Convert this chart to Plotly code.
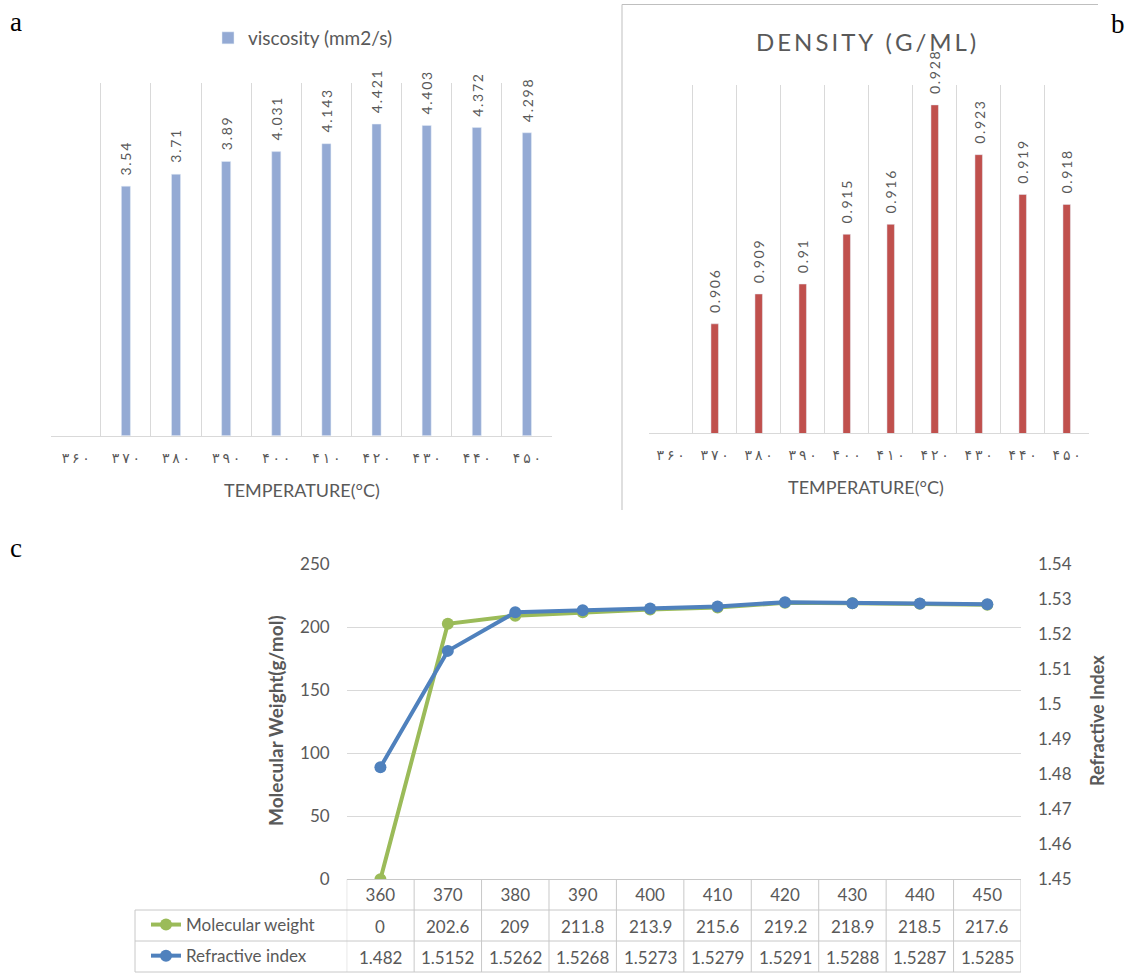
import plotly.graph_objects as go

# ---------------- data ----------------
temps = [360, 370, 380, 390, 400, 410, 420, 430, 440, 450]
temp_labels_fa = ["۳۶۰", "۳۷۰", "۳۸۰", "۳۹۰", "۴۰۰", "۴۱۰", "۴۲۰", "۴۳۰", "۴۴۰", "۴۵۰"]
viscosity = [None, 3.54, 3.71, 3.89, 4.031, 4.143, 4.421, 4.403, 4.372, 4.298]
density = [None, 0.906, 0.909, 0.91, 0.915, 0.916, 0.928, 0.923, 0.919, 0.918]
mol_weight = [0, 202.6, 209, 211.8, 213.9, 215.6, 219.2, 218.9, 218.5, 217.6]
refr_index = [1.482, 1.5152, 1.5262, 1.5268, 1.5273, 1.5279, 1.5291, 1.5288, 1.5287, 1.5285]

W, H = 1128, 974
TXT = "#595959"
GRID = "#D9D9D9"
TBL = "#C8C8C8"
BLUE_BAR = "#94AAD4"
RED_BAR = "#C0504D"
GREEN = "#9BBB59"
BLUE = "#4F81BD"
SP = "\u2009"


def px(x):
    return x / W


def py(y):
    return 1 - y / H


def spaced(s):
    return SP.join(s)


cats = [str(t) for t in temps]
fa_ticks = [spaced(t) for t in temp_labels_fa]

fig = go.Figure()

# ---------------- panel a ----------------
fig.add_trace(go.Bar(
    x=cats, y=viscosity, name="viscosity (mm2/s)", marker_color=BLUE_BAR,
    width=0.18, xaxis="x", yaxis="y", legend="legend", hoverinfo="skip",
))
# ---------------- panel b ----------------
fig.add_trace(go.Bar(
    x=cats, y=density, name="density (g/ml)", marker_color=RED_BAR,
    width=0.17, xaxis="x2", yaxis="y2", showlegend=False, hoverinfo="skip",
))
# ---------------- panel c ----------------
fig.add_trace(go.Scatter(
    x=temps, y=mol_weight, name="Molecular weight", mode="lines+markers",
    line=dict(color=GREEN, width=4), marker=dict(color=GREEN, size=12),
    xaxis="x3", yaxis="y3", legend="legend2", legendgroup="mw",
))
fig.add_trace(go.Scatter(
    x=temps, y=refr_index, name="Refractive index", mode="lines+markers",
    line=dict(color=BLUE, width=4), marker=dict(color=BLUE, size=12),
    xaxis="x3", yaxis="y4", legend="legend2", legendgroup="ri",
))

annotations = []


def note(x, y, text, size, color=TXT, family=None, angle=0, xref="paper", yref="paper"):
    f = dict(size=size, color=color)
    if family:
        f["family"] = family
    return dict(x=x, y=y, xref=xref, yref=yref, text=text, textangle=angle, showarrow=False,
                xanchor="center", yanchor="middle", font=f)


# bar value labels (category index positions)
for i, v in enumerate(viscosity):
    if v is not None:
        annotations.append(dict(
            x=i, y=v, xref="x", yref="y", text=spaced(f"{v:g}"), textangle=-90,
            showarrow=False, xanchor="center", yanchor="bottom", yshift=9,
            font=dict(size=14, color=TXT)))
for i, v in enumerate(density):
    if v is not None:
        annotations.append(dict(
            x=i, y=v, xref="x2", yref="y2", text=spaced(f"{v:g}"), textangle=-90,
            showarrow=False, xanchor="center", yanchor="bottom", yshift=9,
            font=dict(size=14, color=TXT)))

# titles / axis titles / panel letters
annotations += [
    note(px(866), py(41), spaced("DENSITY (G/ML)"), 24),
    note(px(301.5), py(490), "TEMPERATURE(°C)", 18),
    note(px(866), py(487), "TEMPERATURE(°C)", 18),
    note(px(275), py(721), "<b>Molecular Weight(g/mol)</b>", 19, angle=-90),
    note(px(1097), py(721), "<b>Refractive Index</b>", 18, angle=-90),
    note(px(16), py(22), "a", 27, "black", "Liberation Serif"),
    note(px(1118), py(24), "b", 27, "black", "Liberation Serif"),
    note(px(16), py(548), "c", 27, "black", "Liberation Serif"),
]

# data table values
row_mw_y = py(926)
row_ri_y = py(957)
for t, m, r in zip(temps, mol_weight, refr_index):
    annotations.append(note(t, row_mw_y, f"{m:g}", 17, xref="x3"))
    annotations.append(note(t, row_ri_y, f"{r:g}", 17, xref="x3"))

shapes = []
# panel b frame
shapes.append(dict(type="line", xref="paper", yref="paper", x0=px(622), x1=px(1098),
                   y0=py(4.5), y1=py(4.5), line=dict(color="#BFBFBF", width=1)))
shapes.append(dict(type="line", xref="paper", yref="paper", x0=px(622), x1=px(622),
                   y0=py(4.5), y1=py(510), line=dict(color="#BFBFBF", width=1)))
# data table grid
step = temps[1] - temps[0]
for t in temps + [temps[-1] + step]:
    shapes.append(dict(type="line", xref="x3", yref="paper", x0=t - step / 2, x1=t - step / 2,
                       y0=py(879.3), y1=py(972), line=dict(color=TBL, width=1)))
for yy in [910, 941, 972]:
    shapes.append(dict(type="line", xref="paper", yref="paper", x0=px(135), x1=px(1021),
                       y0=py(yy), y1=py(yy), line=dict(color=TBL, width=1)))
shapes.append(dict(type="line", xref="paper", yref="paper", x0=px(135), x1=px(135),
                   y0=py(910), y1=py(972), line=dict(color=TBL, width=1)))

cat_axis = dict(type="category", tickson="boundaries", showgrid=True, gridcolor=GRID,
                showline=True, linecolor=GRID, ticks="", tickvals=cats, ticktext=fa_ticks,
                tickfont=dict(family="DejaVu Sans", size=14, color=TXT),
                ticklabelstandoff=9, range=[-0.5, 9.5], fixedrange=True)

fig.update_layout(
    width=W, height=H, margin=dict(l=0, r=0, t=0, b=0, autoexpand=False),
    paper_bgcolor="white", plot_bgcolor="white",
    font=dict(family="Lato", color=TXT),
    xaxis=dict(cat_axis, domain=[px(50.7), px(552)], anchor="y"),
    yaxis=dict(domain=[py(435.7), py(83.3)], range=[0, 5], visible=False, anchor="x"),
    xaxis2=dict(cat_axis, domain=[px(648.7), px(1088.7)], anchor="y2"),
    yaxis2=dict(domain=[py(433.3), py(85)], range=[0.895, 0.93], visible=False, anchor="x2"),
    xaxis3=dict(domain=[px(346.7), px(1021)], range=[355, 455], tickvals=temps,
                showgrid=False, zeroline=False, showline=True, linecolor=TBL, ticks="",
                tickfont=dict(size=17, color=TXT), anchor="y3", ticklabelstandoff=0),
    yaxis3=dict(domain=[py(879.3), py(564)], range=[0, 250], dtick=50, showgrid=True,
                gridcolor=GRID, zeroline=False, showline=False, ticks="",
                tickfont=dict(size=17, color=TXT), anchor="x3", ticklabelstandoff=16),
    yaxis4=dict(domain=[py(879.3), py(564)], range=[1.45, 1.54], dtick=0.01, tick0=1.45,
                overlaying="y3", side="right", showgrid=False, zeroline=False, ticks="",
                tickfont=dict(size=17, color=TXT), anchor="x3", ticklabelstandoff=16),
    legend=dict(orientation="h", x=px(303), y=py(38), xanchor="center", yanchor="middle",
                font=dict(size=19, color=TXT), bgcolor="rgba(0,0,0,0)"),
    legend2=dict(orientation="v", x=px(146), y=py(907), xanchor="left", yanchor="top",
                 font=dict(size=17, color=TXT), bgcolor="rgba(0,0,0,0)",
                 traceorder="grouped", tracegroupgap=6),
    annotations=annotations,
    shapes=shapes,
    showlegend=True,
)

fig.write_html("out.html", config={"displayModeBar": False},
               post_script="document.body.style.margin='0';")
